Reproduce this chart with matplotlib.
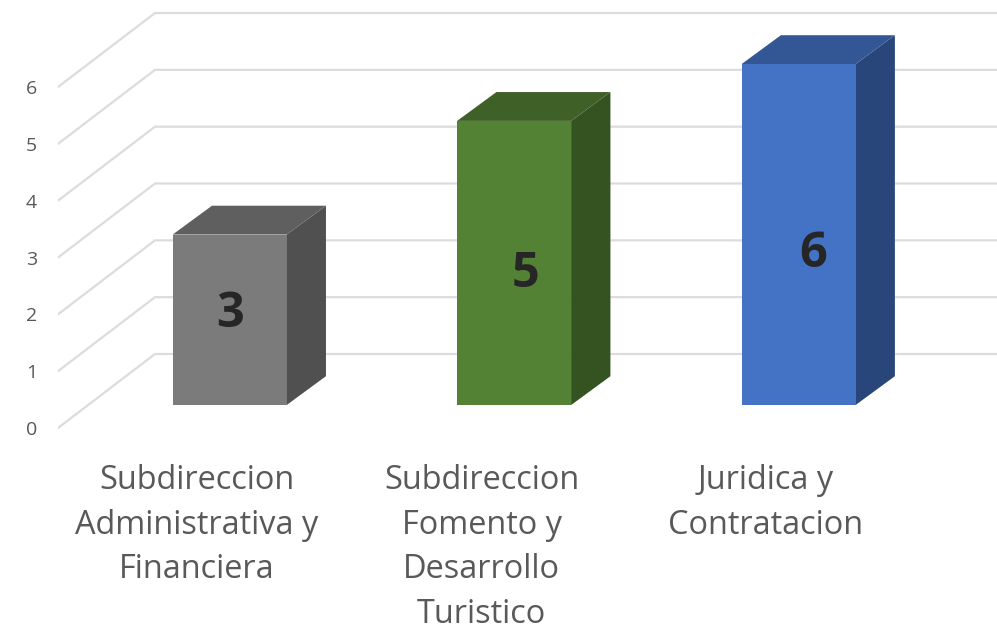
import numpy as np
import matplotlib
matplotlib.use('Agg')
import matplotlib.pyplot as plt

categorias = ['Subdireccion\nAdministrativa y\nFinanciera',
              'Subdireccion\nFomento y\nDesarrollo\nTuristico',
              'Juridica y\nContratacion']
valores = [3, 5, 6]
ticks_y = [0, 1, 2, 3, 4, 5, 6]

color_frente = ['#7B7B7B', '#548235', '#4472C4']
color_lado = ['#505050', '#355320', '#284679']
color_arriba = ['#5F5F5F', '#3F6027', '#335694']
color_grid = '#DCDCDC'

plt.rcParams['font.family'] = ['Open Sans', 'DejaVu Sans']

# pixels per unit, the chart is a fake 3d drawn on a flat axes
px_cat = 284.5
px_val = 56.83
prof_x = 97 / px_cat     # full floor depth in category units
prof_y = 74 / px_val     # same in value units
d0, d1 = 0.31, 0.70      # bars sit between these depths
ancho = 114 / px_cat
aj = 1.5 / px_cat        # front face sits a little to the left

fig = plt.figure(figsize=(9.97, 6.25), dpi=100)
ax = fig.add_axes([58 / 997, 1 - 450 / 625, 1 - 58 / 997, 450 / 625])
ax.set_xlim(-0.503, 2.798)
ax.set_ylim(-22 / px_val, 428 / px_val)
for s in ax.spines.values():
    s.set_visible(False)


def pr(c, v, d):
    return c + d * prof_x, v + d * prof_y


# walls
for t in ticks_y:
    x0, y0 = pr(-0.503, t, 0)
    x1, y1 = pr(-0.503, t, 1)
    ax.plot([x0, x1, 2.9], [y0, y1, y1], color=color_grid, lw=1.6, zorder=1,
            solid_joinstyle='miter')

# bars
for i, v in enumerate(valores):
    iz = i - ancho / 2 - aj
    de = i + ancho / 2 - aj
    de2 = i + ancho / 2
    lado = [pr(de, 0, d0), pr(de2, 0, d1), pr(de2, v, d1), pr(de, v, d0)]
    arriba = [pr(iz, v, d0), pr(de, v, d0), pr(de2, v, d1), pr(iz + aj, v, d1)]
    ax.fill(*zip(*lado), color=color_lado[i], lw=0, zorder=3)
    ax.fill(*zip(*arriba), color=color_arriba[i], lw=0, zorder=3)
    xb, yb = pr(i - aj, 0, d0)
    ax.bar(xb, v, ancho, bottom=yb, color=color_frente[i], lw=0, zorder=4)

# labels were not centred on the bars in the original
desp = [(-1, 5), (10, -12), (13, -20)]
for i, v in enumerate(valores):
    xb, yb = pr(i, v / 2, d0)
    ax.annotate(str(v), (xb, yb), xytext=desp[i], textcoords='offset pixels',
                ha='center', va='center', fontsize=35, fontweight='bold',
                color='#262626', zorder=5)

ax.set_yticks(ticks_y)
ax.set_xticks(np.arange(3) - 0.014)
ax.set_xticklabels(categorias, fontsize=23.4, color='#595959', linespacing=1.47)
ax.tick_params(axis='x', length=0, pad=10)
ax.tick_params(axis='y', length=0, pad=15, labelsize=14, labelcolor='#595959')

fig.savefig('out.png', dpi=100)
